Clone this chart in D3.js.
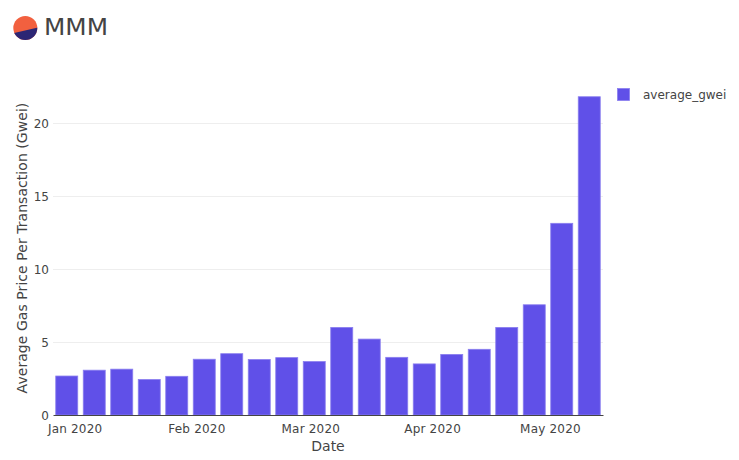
<!DOCTYPE html>
<html>
<head>
  <meta charset="utf-8">
  <style>
    body { margin: 0; background: #fff; }
    text { font-family: "DejaVu Sans", sans-serif; fill: #444; }
    .bar { fill: #6050e8; stroke: #8a7eef; stroke-width: 0.8; }
    .grid line { stroke: #eee; shape-rendering: crispEdges; }
  </style>
  <script src="https://d3js.org/d3.v7.min.js"></script>
</head>
<body>
  <script>
    var weeks = ["2019-12-30", "2020-01-06", "2020-01-13", "2020-01-20", "2020-01-27",
      "2020-02-03", "2020-02-10", "2020-02-17", "2020-02-24", "2020-03-02",
      "2020-03-09", "2020-03-16", "2020-03-23", "2020-03-30", "2020-04-06",
      "2020-04-13", "2020-04-20", "2020-04-27", "2020-05-04", "2020-05-11"];
    var averageGwei = [2.67, 3.07, 3.14, 2.43, 2.65, 3.82, 4.2, 3.8, 3.93, 3.66,
      6.0, 5.2, 3.95, 3.5, 4.15, 4.5, 6.0, 7.55, 13.13, 21.8];
    var xTicks = ["2020-01-01", "2020-02-01", "2020-03-01", "2020-04-01", "2020-05-01"];
    var yTicks = [0, 5, 10, 15, 20];

    var width = 739, height = 460;
    var margin = { top: 80, right: 136, bottom: 45, left: 53 };
    var DAY = 86400000;

    var parseDate = d3.utcParse("%Y-%m-%d");
    var dates = weeks.map(parseDate);

    var x = d3.scaleUtc()
      .domain([+dates[0] - 3.5 * DAY, +dates[dates.length - 1] + 3.5 * DAY])
      .range([margin.left, width - margin.right]);

    var y = d3.scaleLinear()
      .domain([0, d3.max(averageGwei) / 0.95])
      .range([height - margin.bottom, margin.top]);

    var svg = d3.select("body").append("svg")
      .attr("width", width)
      .attr("height", height)
      .style("display", "block");

    // logo next to the title
    var logo = svg.append("g").attr("transform", "translate(25.3,28)");
    logo.append("clipPath").attr("id", "logo-clip")
      .append("circle").attr("r", 12);
    logo.append("circle").attr("r", 12).attr("fill", "#f2603f");
    logo.append("path")
      .attr("d", "M-13,5.4L13,-0.6V14H-13Z")
      .attr("fill", "#2c2674")
      .attr("clip-path", "url(#logo-clip)");

    svg.append("text")
      .attr("x", 44)
      .attr("y", 34.5)
      .attr("textLength", 64)
      .attr("lengthAdjust", "spacingAndGlyphs")
      .style("font-size", "23px")
      .text("MMM");

    // gridlines
    svg.append("g").attr("class", "grid")
      .selectAll("line")
      .data(yTicks.slice(1))
      .enter().append("line")
      .attr("x1", margin.left)
      .attr("x2", width - margin.right)
      .attr("y1", function(d) { return y(d); })
      .attr("y2", function(d) { return y(d); });

    var barWidth = (x(dates[1]) - x(dates[0])) * 0.8;

    svg.append("g")
      .selectAll("rect")
      .data(averageGwei)
      .enter().append("rect")
      .attr("class", "bar")
      .attr("x", function(d, i) { return x(dates[i]) - barWidth / 2; })
      .attr("width", barWidth)
      .attr("y", function(d) { return y(d); })
      .attr("height", function(d) { return y(0) - y(d); });

    var xAxis = d3.axisBottom(x)
      .tickValues(xTicks.map(parseDate))
      .tickSize(0)
      .tickPadding(9)
      .tickFormat(d3.utcFormat("%b %Y"));

    var gx = svg.append("g")
      .attr("transform", "translate(0," + (height - margin.bottom) + ")")
      .call(xAxis);
    gx.select(".domain").attr("stroke", "#444");
    gx.selectAll("text").style("font-size", "12px").style("letter-spacing", "0.2px").attr("fill", "#444");

    var yAxis = d3.axisLeft(y)
      .tickValues(yTicks)
      .tickSize(0)
      .tickPadding(4);

    var gy = svg.append("g")
      .attr("transform", "translate(" + margin.left + ",0.5)")
      .call(yAxis);
    gy.select(".domain").remove();
    gy.selectAll("text").style("font-size", "12px").attr("fill", "#444");

    svg.append("text")
      .attr("x", (margin.left + width - margin.right) / 2)
      .attr("y", 451)
      .attr("text-anchor", "middle")
      .style("font-size", "14px")
      .text("Date");

    svg.append("text")
      .attr("transform", "translate(27,248) rotate(-90)")
      .attr("text-anchor", "middle")
      .style("font-size", "14px")
      .style("letter-spacing", "0.05px")
      .text("Average Gas Price Per Transaction (Gwei)");

    // legend
    var legend = svg.append("g").attr("transform", "translate(617.5,88.5)");
    legend.append("rect")
      .attr("class", "bar")
      .attr("width", 12)
      .attr("height", 12);
    legend.append("text")
      .attr("x", 25.5)
      .attr("y", 10)
      .style("font-size", "12px")
      .text("average_gwei");
  </script>
</body>
</html>
